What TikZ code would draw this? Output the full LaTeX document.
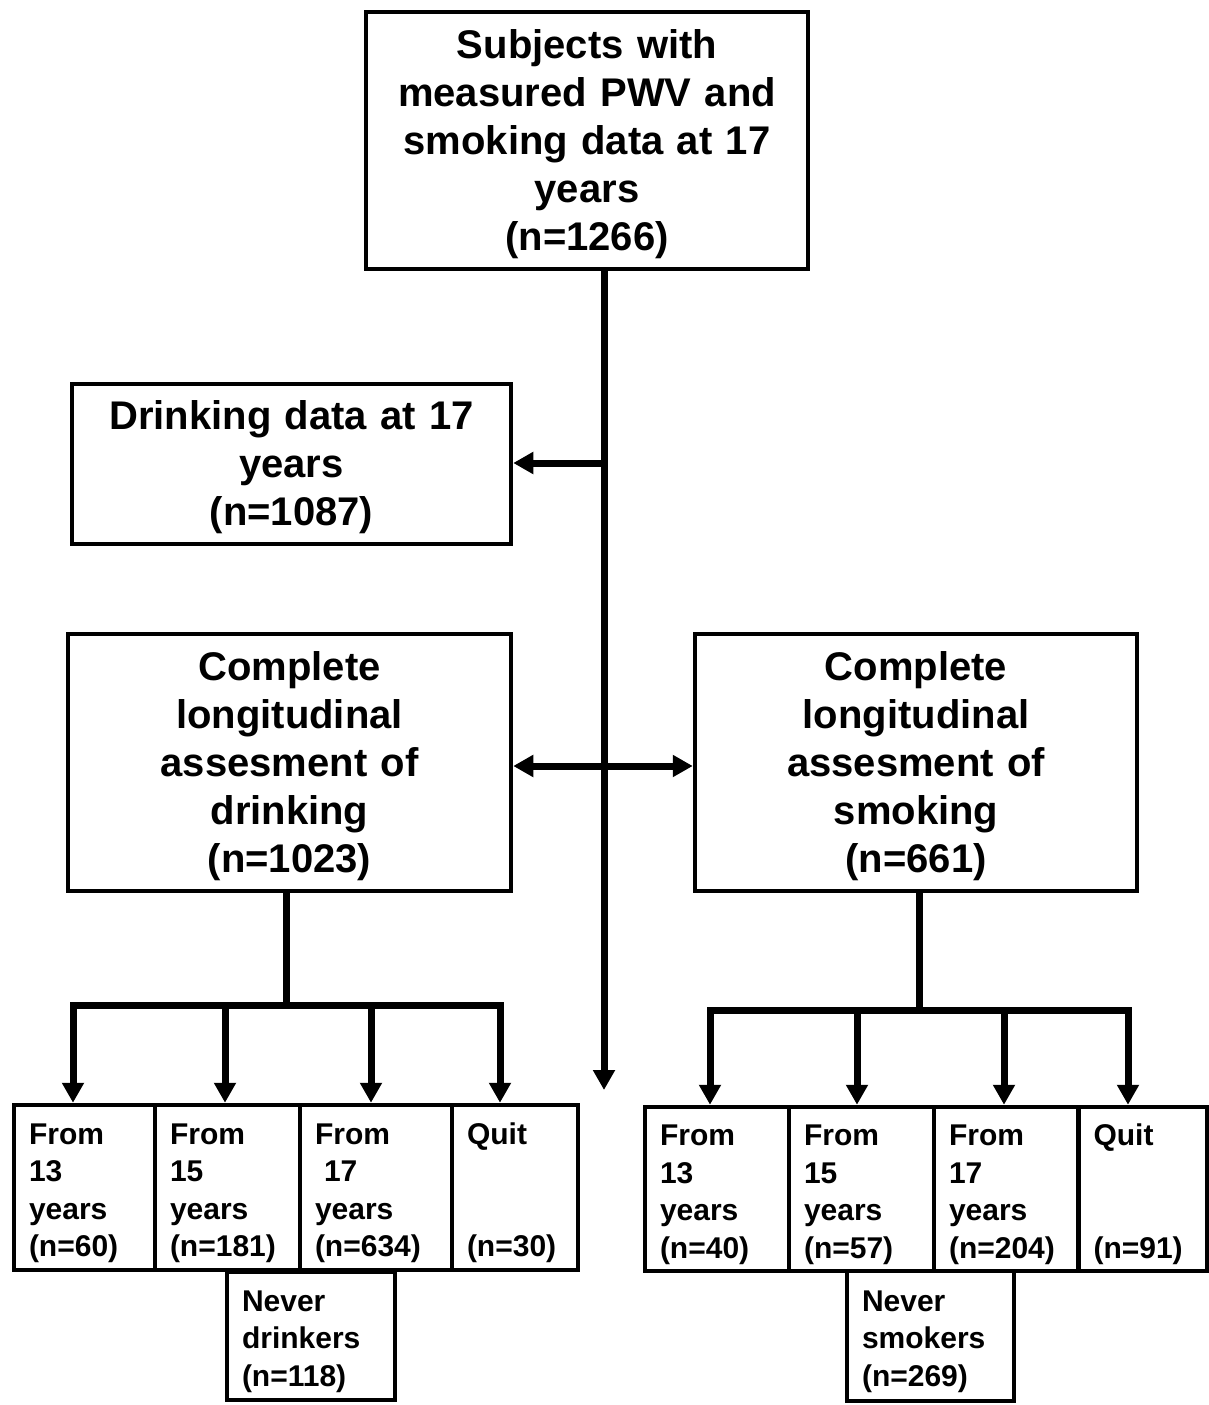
\documentclass[tikz,border=0pt]{standalone}
\usepackage{fontspec}
\setmainfont{Liberation Sans}
\usetikzlibrary{arrows.meta}
\begin{document}
\begin{tikzpicture}[x=1pt,y=-1pt,
  box/.style={draw, line width=4.5pt, align=center, inner sep=0pt, text width=420pt,
    font=\bfseries\fontsize{40}{48}\selectfont,
    execute at begin node={\rule{0pt}{36pt}}},
  cell/.style={draw, line width=4.5pt, align=left, inner ysep=0pt, inner xsep=15pt,
    font=\bfseries\fontsize{30}{37.5}\selectfont,
    execute at begin node={\rule{0pt}{32pt}}},
  conn/.style={line width=7pt},
  tip/.tip={Triangle[length=20pt,width=21pt]},
  arr/.style={conn, -tip},
  darr/.style={conn, tip-tip}]

\useasboundingbox (0,0) rectangle (1208,1405);

% main boxes
\node[box, minimum width=442pt, minimum height=257pt] (top) at (587,140.5)
  {Subjects with\\measured PWV and\\smoking data at 17\\years\\(n=1266)};
\node[box, minimum width=439pt, minimum height=160pt] (drink) at (291.5,464)
  {Drinking data at 17\\years\\(n=1087)};
\node[box, minimum width=443pt, minimum height=257pt] (dlong) at (289.5,762.5)
  {Complete\\longitudinal\\assesment of\\drinking\\(n=1023)};
\node[box, minimum width=442pt, minimum height=257pt] (slong) at (916,762.5)
  {Complete\\longitudinal\\assesment of\\smoking\\(n=661)};

% drinking categories
\node[cell, text width=111pt, minimum height=165pt] (d1) at (84.5,1187.5)
  {From\\13\\years\\(n=60)};
\node[cell, text width=115pt, minimum height=165pt] (d2) at (227.5,1187.5)
  {From\\15\\years\\(n=181)};
\node[cell, text width=122pt, minimum height=165pt] (d3) at (376,1187.5)
  {From\\\hspace*{0.3em}17\\years\\(n=634)};
\node[cell, text width=96pt, minimum height=165pt] (d4) at (515,1187.5)
  {Quit\\\mbox{}\\\mbox{}\\(n=30)};
\node[cell, text width=138pt, minimum height=128pt] (d5) at (311,1336)
  {Never\\drinkers\\(n=118)};

% smoking categories
\node[cell, text width=114pt, minimum height=164pt] (s1) at (717,1189)
  {From\\13\\years\\(n=40)};
\node[cell, text width=115pt, minimum height=164pt] (s2) at (861.5,1189)
  {From\\15\\years\\(n=57)};
\node[cell, text width=114pt, minimum height=164pt] (s3) at (1006,1189)
  {From\\17\\years\\(n=204)};
\node[cell, text width=99pt, minimum height=164pt] (s4) at (1143,1189)
  {Quit\\\mbox{}\\\mbox{}\\(n=91)};
\node[cell, text width=137pt, minimum height=130pt] (s5) at (930.5,1336)
  {Never\\smokers\\(n=269)};

% trunk
\coordinate (tr1) at (604,463);
\coordinate (trmid) at (604,766);
\coordinate (trEnd) at (604,1090);
\draw[arr] (top.south -| trEnd) -- (trEnd);
\draw[arr] (tr1) -- (drink.east |- tr1);
\draw[darr] (dlong.east |- trmid) -- (slong.west |- trmid);

% drinking tree
\coordinate (db) at (286,1005);
\coordinate (dbL) at (73,1005);
\coordinate (db2) at (225,1005);
\coordinate (db3) at (371,1005);
\coordinate (dbR) at (500,1005);
\draw[conn] (dlong.south -| db) -- (db);
\draw[darr] (dbL |- d1.north) -- (dbL) -- (dbR) -- (dbR |- d4.north);
\draw[arr] (db2) -- (db2 |- d2.north);
\draw[arr] (db3) -- (db3 |- d3.north);

% smoking tree
\coordinate (sb) at (919,1010);
\coordinate (sbL) at (710,1010);
\coordinate (sb2) at (857,1010);
\coordinate (sb3) at (1004,1010);
\coordinate (sbR) at (1128,1010);
\draw[conn] (slong.south -| sb) -- (sb);
\draw[darr] (sbL |- s1.north) -- (sbL) -- (sbR) -- (sbR |- s4.north);
\draw[arr] (sb2) -- (sb2 |- s2.north);
\draw[arr] (sb3) -- (sb3 |- s3.north);
\end{tikzpicture}
\end{document}
